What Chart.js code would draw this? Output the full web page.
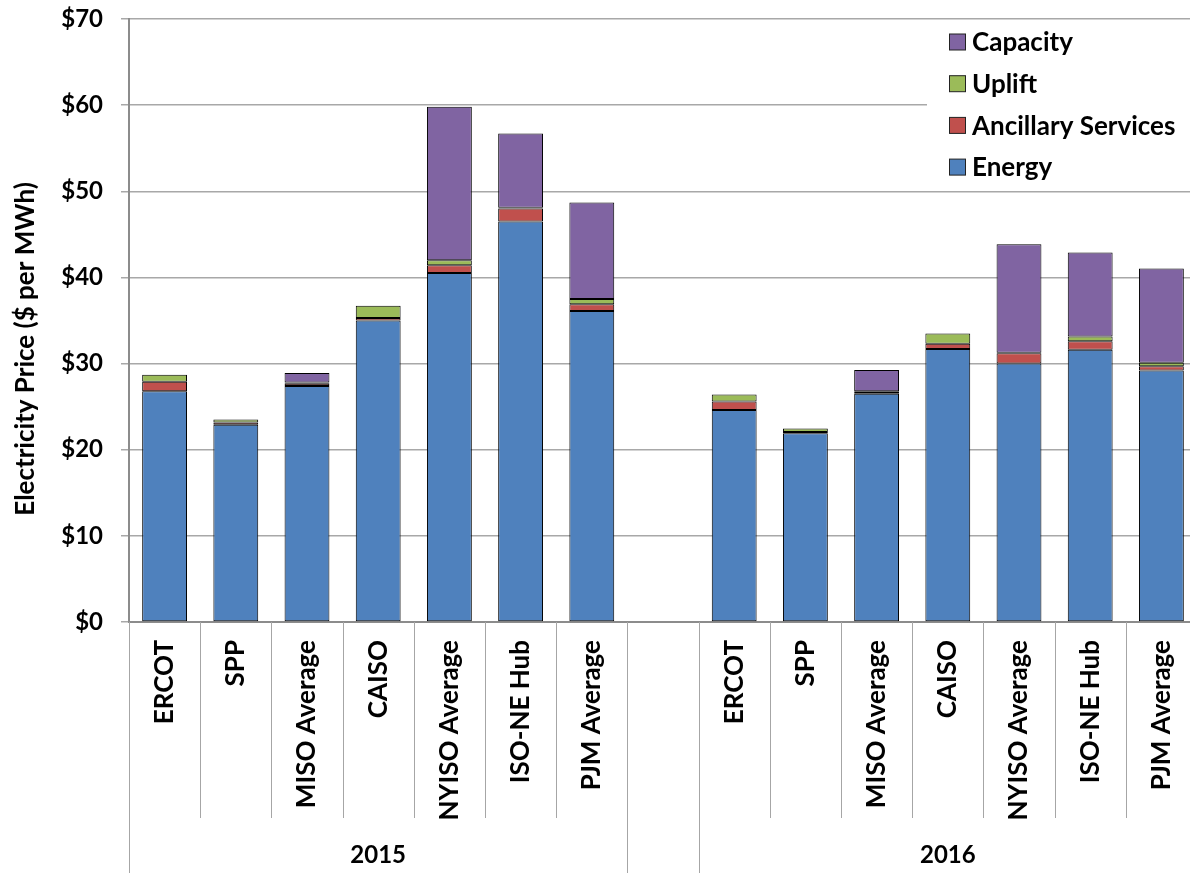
<!DOCTYPE html>
<html>
<head>
<meta charset="utf-8">
<script src="https://cdn.jsdelivr.net/npm/chart.js@4.4.0/dist/chart.umd.min.js"></script>
<style>
  html, body { margin: 0; padding: 0; background: #fff; overflow: hidden; }
  /* plot area runs slightly past the right edge of the window, like the original */
  #wrap { width: 1197px; height: 873px; position: relative; }
</style>
</head>
<body>
<div id="wrap"><canvas id="priceChart"></canvas></div>
<script>
// categories (blank slot separates the two years)
const categories = ['ERCOT', 'SPP', 'MISO Average', 'CAISO', 'NYISO Average', 'ISO-NE Hub', 'PJM Average', '',
                    'ERCOT', 'SPP', 'MISO Average', 'CAISO', 'NYISO Average', 'ISO-NE Hub', 'PJM Average'];
const years = ['2015', '2016'];
const yTitle = 'Electricity Price ($ per MWh)';

// $ per MWh
const energy    = [26.8, 22.9, 27.4, 35.0, 40.5, 46.5, 36.1, null, 24.6, 21.9, 26.5, 31.7, 30.0, 31.6, 29.2];
const ancillary = [1.1, 0.25, 0.25, 0.3, 0.9, 1.5, 0.8, null, 1.0, 0.15, 0.2, 0.6, 1.2, 1.0, 0.5];
const uplift    = [0.8, 0.35, 0.15, 1.4, 0.6, 0.1, 0.6, null, 0.8, 0.4, 0.1, 1.2, 0.05, 0.55, 0.4];
const capacity  = [0, 0, 1.1, 0, 17.8, 8.6, 11.2, null, 0, 0, 2.45, 0, 12.6, 9.75, 10.95];

const FONT = 'Lato, "Liberation Sans", sans-serif';

// Group row under the category labels: separators + year labels, and the y title
const groupAxis = {
    id: 'groupAxis',
    afterDraw(chart) {
        const ctx = chart.ctx;
        const x = chart.scales.x;
        const bottom = chart.chartArea.bottom;
        ctx.save();
        ctx.strokeStyle = '#a6a6a6';
        ctx.lineWidth = 1;
        // short separators between categories
        for (let i = 0; i < categories.length - 1; i++) {
            if (i === 6 || i === 7) continue;
            const px = Math.round(x.getPixelForValue(i + 0.5)) + 0.5;
            ctx.beginPath();
            ctx.moveTo(px, bottom);
            ctx.lineTo(px, 818);
            ctx.stroke();
        }
        // long separators between groups
        [-0.5, 6.5, 7.5, 14.5].forEach(v => {
            const px = Math.round(x.getPixelForValue(v)) + 0.5;
            ctx.beginPath();
            ctx.moveTo(px, bottom);
            ctx.lineTo(px, chart.height);
            ctx.stroke();
        });
        ctx.fillStyle = '#000';
        ctx.font = 'bold 24px ' + FONT;
        ctx.textAlign = 'center';
        ctx.textBaseline = 'middle';
        ctx.fillText(years[0], (x.getPixelForValue(-0.5) + x.getPixelForValue(6.5)) / 2, 855);
        ctx.fillText(years[1], (x.getPixelForValue(7.5) + x.getPixelForValue(14.5)) / 2, 855);

        // y axis title (sits a bit below the middle, as in the original)
        ctx.translate(26, 349);
        ctx.rotate(-Math.PI / 2);
        ctx.font = 'bold 26px ' + FONT;
        ctx.fillText(yTitle, 0, 0);
        ctx.restore();
    }
};

// Legend box in the top right corner (top item = top of stack)
const boxLegend = {
    id: 'boxLegend',
    afterDraw(chart) {
        const ctx = chart.ctx;
        const items = chart.data.datasets.slice().reverse();
        ctx.save();
        ctx.fillStyle = '#fff';
        ctx.fillRect(927, 21, 270, 166);
        ctx.font = 'bold 26px ' + FONT;
        ctx.textBaseline = 'middle';
        items.forEach((ds, i) => {
            const cy = 42 + i * 41.7;
            ctx.fillStyle = ds.backgroundColor;
            ctx.fillRect(949.5, cy - 8, 16, 16);
            ctx.strokeStyle = '#222';
            ctx.lineWidth = 1;
            ctx.strokeRect(949.5, cy - 8, 16, 16);
            ctx.fillStyle = '#000';
            ctx.fillText(ds.label, 972, cy + 1);
        });
        ctx.restore();
    }
};

const ctx = document.getElementById('priceChart').getContext('2d');
const barStyle = { borderColor: '#000', borderWidth: 1, borderSkipped: false,
                   barPercentage: 0.63, categoryPercentage: 1.0 };

new Chart(ctx, {
    type: 'bar',
    data: {
        labels: categories,
        datasets: [
            Object.assign({ label: 'Energy', data: energy, backgroundColor: '#4F81BD' }, barStyle),
            Object.assign({ label: 'Ancillary Services', data: ancillary, backgroundColor: '#C0504D' }, barStyle),
            Object.assign({ label: 'Uplift', data: uplift, backgroundColor: '#9BBB59' }, barStyle),
            Object.assign({ label: 'Capacity', data: capacity, backgroundColor: '#8064A2' }, barStyle)
        ]
    },
    options: {
        responsive: true,
        maintainAspectRatio: false,
        animation: false,
        layout: { padding: { top: 19, right: 0, bottom: 0, left: 0 } },
        plugins: {
            legend: { display: false },
            tooltip: { enabled: false }
        },
        scales: {
            x: {
                stacked: true,
                grid: { display: false, drawTicks: false },
                border: { display: true, color: '#8c8c8c', width: 2 },
                ticks: {
                    color: '#000',
                    font: { family: FONT, size: 26, weight: 'bold' },
                    minRotation: 90,
                    maxRotation: 90,
                    autoSkip: false,
                    padding: 18
                },
                afterFit: scale => {
                    scale.height = 251;
                    scale.paddingLeft = 0;
                    scale.paddingRight = 0;
                }
            },
            y: {
                stacked: true,
                min: 0,
                max: 70,
                grid: { color: '#a8a8a8', lineWidth: 1.5, tickLength: 8 },
                border: { display: true, color: '#8c8c8c', width: 2 },
                ticks: {
                    stepSize: 10,
                    color: '#000',
                    padding: 18,
                    font: { family: FONT, size: 24, weight: 'bold' },
                    callback: v => '$' + v
                },
                afterFit: scale => {
                    scale.width = 129;
                    scale.paddingTop = 0;
                    scale.paddingBottom = 0;
                }
            }
        }
    },
    plugins: [groupAxis, boxLegend]
});
</script>
</body>
</html>
